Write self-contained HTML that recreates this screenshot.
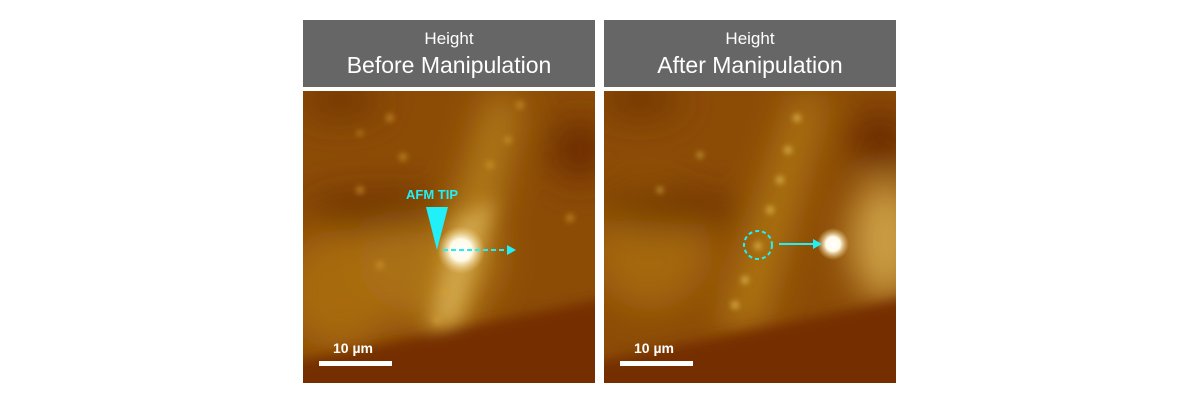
<!DOCTYPE html>
<html><head><style>
body{margin:0;background:#fff;width:1200px;height:403px;overflow:hidden;font-family:"Liberation Sans",sans-serif}
.hd{position:absolute;top:20px;height:67px;width:292px;background:#666;color:#fff;text-align:center}
.hd .a{font-size:17px;margin-top:9px;line-height:20px}
.hd .b{font-size:23px;line-height:28px;margin-top:2px}
svg{position:absolute;top:0;left:0}
</style></head><body>
<div class="hd" style="left:303px"><div class="a">Height</div><div class="b">Before Manipulation</div></div>
<div class="hd" style="left:604px"><div class="a">Height</div><div class="b">After Manipulation</div></div>
<svg width="1200" height="403">
<defs>
<filter id="b20" x="-50%" y="-50%" width="200%" height="200%"><feGaussianBlur stdDeviation="18"/></filter>
<filter id="b8" x="-50%" y="-50%" width="200%" height="200%"><feGaussianBlur stdDeviation="9"/></filter>
<filter id="b3"><feGaussianBlur stdDeviation="3"/></filter>
<filter id="b5" x="-10%" y="-50%" width="120%" height="200%"><feGaussianBlur stdDeviation="6"/></filter>
<radialGradient id="spot"><stop offset="0" stop-color="#fff"/><stop offset="0.45" stop-color="#fffbe8"/><stop offset="1" stop-color="#f0d080" stop-opacity="0"/></radialGradient>
<clipPath id="c1"><rect x="303" y="91" width="292" height="292"/></clipPath>
<clipPath id="c2"><rect x="604" y="91" width="292" height="292"/></clipPath>
</defs>
<g clip-path="url(#c1)">
<rect x="303" y="91" width="292" height="292" fill="#8c4c06"/>
<g filter="url(#b20)">
<ellipse cx="340" cy="290" rx="60" ry="60" fill="#a76a0c"/>
<ellipse cx="430" cy="260" rx="70" ry="60" fill="#aa7014"/>
<polygon points="490,95 520,95 470,330 420,330" fill="#b8821e"/>
<ellipse cx="380" cy="210" rx="75" ry="14" fill="#642602"/>
<ellipse cx="580" cy="150" rx="30" ry="30" fill="#6a2a02"/>
<ellipse cx="340" cy="100" rx="40" ry="15" fill="#6e3004"/>
</g>
<polygon points="280,365 620,295 620,410 280,410" fill="#742f03" filter="url(#b5)"/>
<g filter="url(#b8)"><polygon points="495,200 460,320 430,330 455,220" fill="#d0a448"/></g>
<circle cx="461" cy="250" r="24" fill="url(#spot)"/>
<g fill="#d8a030" opacity="0.6" filter="url(#b3)">
<circle cx="390" cy="118" r="4"/><circle cx="520" cy="105" r="4"/><circle cx="360" cy="133" r="3"/><circle cx="403" cy="157" r="4"/><circle cx="508" cy="140" r="4"/><circle cx="360" cy="190" r="4"/><circle cx="570" cy="218" r="4"/><circle cx="490" cy="165" r="4"/><circle cx="380" cy="265" r="4"/><circle cx="445" cy="292" r="4"/><circle cx="437" cy="320" r="4"/>
</g>
<text x="406" y="199" fill="#22f0f8" font-size="13" font-weight="bold">AFM TIP</text>
<polygon points="426,207 448,207 437,250" fill="#22f0f8"/>
<line x1="443" y1="250" x2="508" y2="250" stroke="#22f0f8" stroke-width="2" stroke-dasharray="5,3"/>
<polygon points="507,245 516,250 507,255" fill="#22f0f8"/>
<text x="333" y="353" fill="#fff" font-size="14" font-weight="bold">10 µm</text>
<rect x="319" y="361" width="73" height="5" fill="#fff"/>
</g>
<g clip-path="url(#c2)">
<rect x="604" y="91" width="292" height="292" fill="#8c4c06"/>
<g filter="url(#b20)">
<ellipse cx="885" cy="240" rx="35" ry="60" fill="#cc9e44"/>
<ellipse cx="650" cy="250" rx="60" ry="60" fill="#a46810"/>
<polygon points="795,95 825,95 760,330 720,330" fill="#b27a18"/>
<ellipse cx="670" cy="210" rx="75" ry="14" fill="#642602"/>
<ellipse cx="880" cy="140" rx="30" ry="30" fill="#6a2a02"/>
<ellipse cx="640" cy="100" rx="40" ry="15" fill="#6e3004"/>
</g>
<polygon points="580,365 920,295 920,410 580,410" fill="#742f03" filter="url(#b5)"/>
<g fill="#e0b850" opacity="0.8" filter="url(#b3)">
<circle cx="797" cy="118" r="4"/><circle cx="788" cy="150" r="4"/><circle cx="780" cy="180" r="4"/><circle cx="770" cy="210" r="4"/><circle cx="758" cy="246" r="4"/><circle cx="745" cy="280" r="4"/><circle cx="735" cy="305" r="4"/><circle cx="700" cy="155" r="3"/><circle cx="660" cy="190" r="3"/>
</g>
<circle cx="833" cy="244" r="16" fill="url(#spot)"/>
<circle cx="758" cy="245" r="14" fill="none" stroke="#22f0f8" stroke-width="2" stroke-dasharray="4,3"/>
<line x1="779" y1="244" x2="814" y2="244" stroke="#22f0f8" stroke-width="2"/>
<polygon points="813,239 822,244 813,249" fill="#22f0f8"/>
<text x="634" y="353" fill="#fff" font-size="14" font-weight="bold">10 µm</text>
<rect x="620" y="361" width="73" height="5" fill="#fff"/>
</g>
</svg>
</body></html>
